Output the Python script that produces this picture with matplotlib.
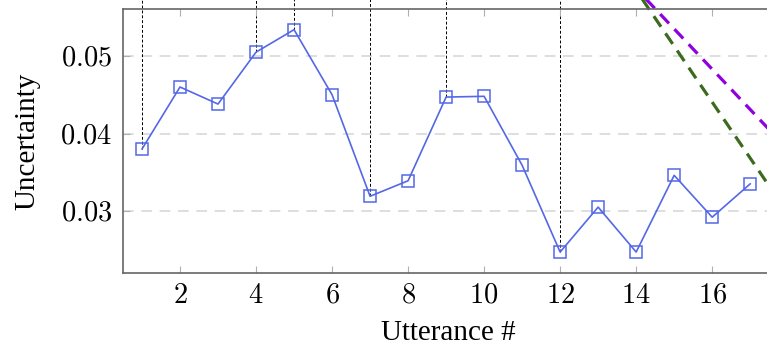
import matplotlib
matplotlib.use("Agg")
import matplotlib.pyplot as plt
from matplotlib.ticker import FuncFormatter

# ---- data ----
utterance = list(range(1, 18))
uncertainty = [0.0380, 0.0460, 0.0438, 0.0505, 0.0534, 0.0450, 0.0319, 0.0339,
               0.0447, 0.0448, 0.0359, 0.0247, 0.0305, 0.0247, 0.0346, 0.0292, 0.0335]
marked = [1, 4, 5, 7, 9, 12]          # utterances with vertical dashed markers
purple_x = [14.0, 18.0]
purple_y = [0.0587, 0.0379]
green_x = [14.0, 18.0]
green_y = [0.0585, 0.0296]
x_ticks = [2, 4, 6, 8, 10, 12, 14, 16]
y_ticks = [0.03, 0.04, 0.05]

plt.rcParams['mathtext.fontset'] = 'cm'
plt.rcParams['font.family'] = ['Liberation Serif', 'DejaVu Serif']

W, H = 767, 345
fig = plt.figure(figsize=(W / 100, H / 100), dpi=100)
left_px, right_px, top_px, bot_px = 123, 773, 9.3, 272.5
ax = fig.add_axes([left_px / W, (H - bot_px) / H, (right_px - left_px) / W, (bot_px - top_px) / H])

ax.set_xlim(0.5, 17.6)
ax.set_ylim(0.02206, 0.05603)

# grid
for yv in y_ticks:
    ax.axhline(yv, color='#d4d4d4', lw=1.1, dashes=(7, 5), zorder=0)

# vertical dashed markers
for u in marked:
    yv = uncertainty[utterance.index(u)]
    ax.plot([u, u], [yv, 0.06], color='black', lw=0.7, dashes=(3, 2), clip_on=False, zorder=1)

# extra dashed series
ax.plot(purple_x, purple_y, color='#8f00e0', lw=2.3, dashes=(4, 2.5), clip_on=False, zorder=2)
ax.plot(green_x, green_y, color='#3c6b1f', lw=2.3, dashes=(4, 2.5), clip_on=False, zorder=2)

# main series
ax.plot(utterance, uncertainty, color='#5468e6', lw=1.2, marker='s', markersize=8.5,
        markerfacecolor='none', markeredgecolor='#5468e6', markeredgewidth=1.1, zorder=3)

ax.set_xticks(x_ticks)
ax.set_yticks(y_ticks)
ax.xaxis.set_major_formatter(FuncFormatter(lambda v, p: f'${int(v)}$'))
ax.yaxis.set_major_formatter(FuncFormatter(lambda v, p: f'${v:.2f}$'))
ax.tick_params(axis='both', direction='in', length=5, width=0.8, color='#b0b0b0',
               labelsize=20.5, top=True)
ax.tick_params(axis='x', pad=8)
ax.tick_params(axis='y', pad=8)

for s in ['left', 'bottom', 'top']:
    ax.spines[s].set_color('#666666')
    ax.spines[s].set_linewidth(1.2)
ax.spines['right'].set_visible(False)

ax.set_xlabel('Utterance #', fontsize=21, labelpad=8)
ax.set_ylabel('Uncertainty', fontsize=21, labelpad=14)

fig.savefig('out.png', dpi=100)
